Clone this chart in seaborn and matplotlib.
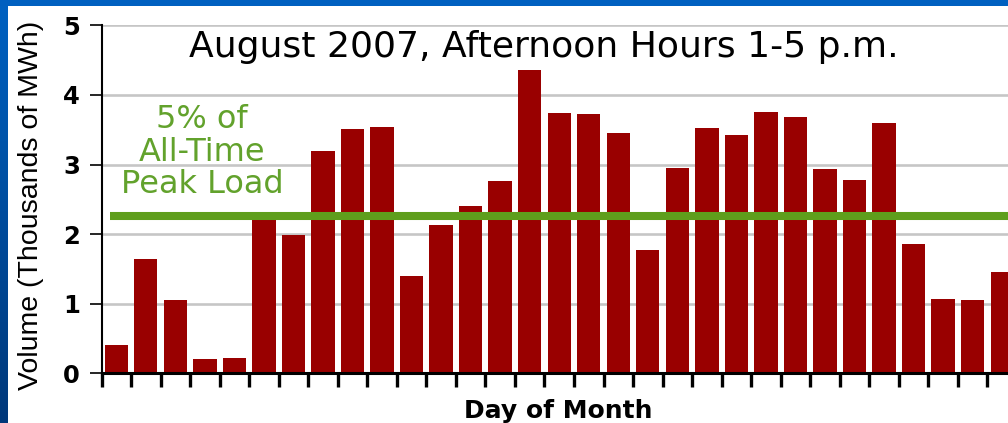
import numpy as np
import pandas as pd
import matplotlib
matplotlib.use("Agg")
import matplotlib.pyplot as plt
import seaborn as sns
from matplotlib.patches import Rectangle
from matplotlib.colors import LinearSegmentedColormap

# ---- data ----
days = list(range(1, 32))
volume = [0.41, 1.64, 1.06, 0.20, 0.215, 2.20, 1.99, 3.20, 3.51, 3.54,
          1.40, 2.13, 2.40, 2.76, 4.36, 3.74, 3.73, 3.45, 1.77, 2.95,
          3.53, 3.42, 3.76, 3.68, 2.93, 2.78, 3.60, 1.86, 1.07, 1.06, 1.45]
peak_5pct = 2.26
yticks = [0, 1, 2, 3, 4, 5]
title = "August 2007, Afternoon Hours 1-5 p.m."
ylabel = "Volume (Thousands of MWh)"
xlabel = "Day of Month"
peak_lines = ["5% of", "All-Time", "Peak Load"]

df = pd.DataFrame({"day": days, "volume": volume})

sns.set_style("white")
plt.rcParams["font.family"] = ["DejaVu Sans"]

W, H = 1008, 423
fig = plt.figure(figsize=(W / 100, H / 100), dpi=100, facecolor="white")

def fx(px):
    return px / W

def fy(py):
    return 1 - py / H

# axes geometry (pixels)
ax_left, ax_right = 101.5, 1008
ax_top, ax_bottom = 25.3, 373.3
ax = fig.add_axes([fx(ax_left), fy(ax_bottom), fx(ax_right - ax_left),
                   (ax_bottom - ax_top) / H])
ax.set_facecolor("white")
ax.set_axisbelow(True)

sns.barplot(data=df, x="day", y="volume", color="#990000", width=0.79,
            saturation=1, linewidth=0, ax=ax)

spacing = 29.53
ax.set_xlim(-0.5, -0.5 + (ax_right - ax_left) / spacing)
ax.set_ylim(0, 5)

# grid
ax.set_yticks(yticks)
ax.yaxis.grid(True, color="#c6c6c6", linewidth=1.9)
ax.xaxis.grid(False)

# x ticks at day boundaries
ax.set_xticks(np.arange(len(days)) - 0.5)
ax.set_xticklabels([])
ax.tick_params(axis="x", direction="out", length=10, width=2.4, color="black",
               bottom=True)
ax.tick_params(axis="y", direction="out", length=8.6, width=1.2, color="black",
               left=True, pad=7, labelsize=17.5)
for lab in ax.get_yticklabels():
    lab.set_fontweight("bold")
    lab.set_color("black")

for s in ["top", "right"]:
    ax.spines[s].set_visible(False)
ax.spines["left"].set_color("black")
ax.spines["left"].set_linewidth(1.5)
ax.spines["bottom"].set_color("black")
ax.spines["bottom"].set_linewidth(2.2)
ax.set_xlabel("")
ax.set_ylabel("")

# 5% of all-time peak line
xmin_frac = (110 - ax_left) / (ax_right - ax_left)
ax.axhline(peak_5pct, xmin=xmin_frac, xmax=1, color="#5f9e1c", linewidth=5.8,
           zorder=5, solid_capstyle="butt")

# peak label
baselines = [128, 161, 193]
for txt, b in zip(peak_lines, baselines):
    fig.text(fx(202), fy(b), txt, ha="center", va="baseline", fontsize=23,
             color="#62a22c", family=["DejaVu Sans"])

# title
fig.text(fx(544), fy(57), title, ha="center", va="baseline", fontsize=26,
         color="black", family=["DejaVu Sans"])

# axis labels
fig.text(fx(31), fy(205), ylabel, rotation=90, ha="center", va="center",
         fontsize=20.5, color="black", family=["Liberation Sans", "DejaVu Sans"])
fig.text(fx(558), fy(418), xlabel, ha="center", va="baseline", fontsize=18,
         fontweight="bold", color="black", family=["DejaVu Sans"])

# slide frame: top band and left gradient stripe
fig.patches.append(Rectangle((0, fy(6)), 1, 6 / H, transform=fig.transFigure,
                             facecolor="#0060c0", edgecolor="none", zorder=10))
bax = fig.add_axes([0, 0, fx(8), 1])
cmap = LinearSegmentedColormap.from_list("frame", ["#0062c2", "#00387a"])
bax.imshow(np.linspace(0, 1, 256).reshape(-1, 1), aspect="auto", cmap=cmap,
           extent=[0, 1, 0, 1], origin="upper")
bax.set_axis_off()

fig.savefig("out.png", dpi=100, facecolor="white")
